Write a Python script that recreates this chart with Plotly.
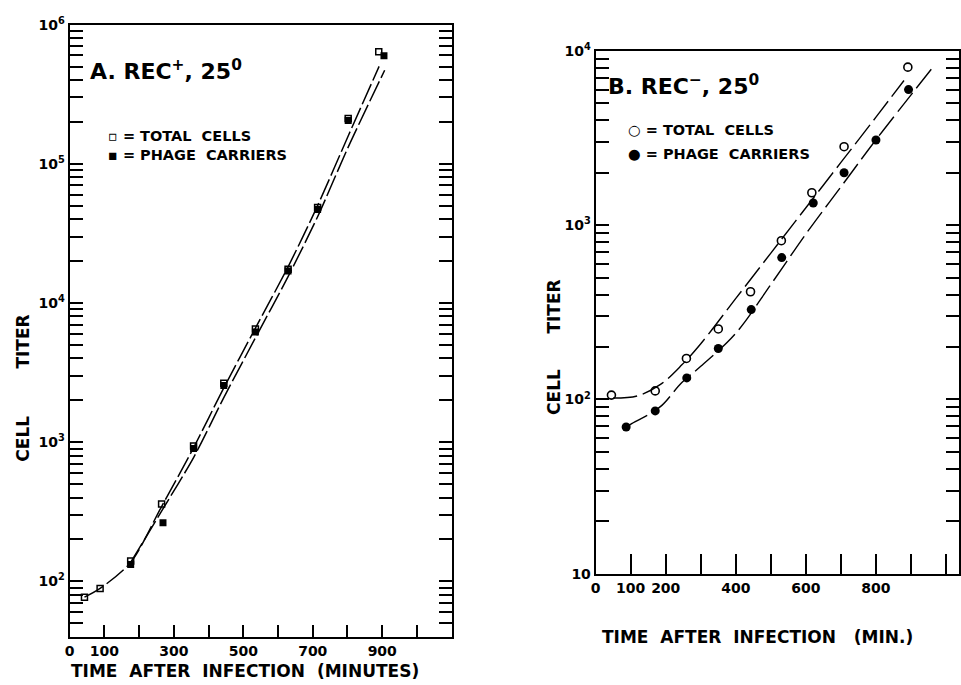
import plotly.graph_objects as go

W, H = 961, 685

# ---------------- Panel A: REC+, 25 deg ----------------
a_total_t = [43, 88, 176, 265, 357, 444, 535, 629, 714, 802, 890]
a_total_v = [77, 89, 140, 360, 940, 2650, 6500, 17500, 48500, 212000, 637000]
a_phage_t = [176, 269, 357, 444, 535, 629, 714, 802, 905]
a_phage_v = [132, 264, 900, 2550, 6200, 17000, 47000, 205000, 597000]
# hand-drawn fit curves
a_fit_total_t = [43, 88, 176, 265, 357, 444, 535, 629, 714, 802, 891]
a_fit_total_v = [77, 89, 137, 345, 912, 2455, 6607, 18200, 50100, 158500, 501000]
a_fit_phage_t = [176, 265, 357, 444, 535, 629, 714, 802, 907]
a_fit_phage_v = [137, 320, 776, 2089, 5623, 15490, 41690, 131800, 470000]

# ---------------- Panel B: REC-, 25 deg ----------------
b_total_t = [45, 170, 259, 350, 442, 530, 617, 709, 891]
b_total_v = [106, 112, 172, 254, 415, 815, 1535, 2820, 8070]
b_phage_t = [87, 170, 260, 350, 444, 531, 621, 709, 800, 893]
b_phage_v = [69.5, 86, 133, 196, 328, 652, 1340, 2000, 3080, 6000]
b_fit_total_t = [50, 120, 185, 246, 300, 400, 500, 600, 700, 800, 880]
b_fit_total_v = [102, 105, 122, 158, 209, 380, 692, 1259, 2291, 4169, 6761]
b_fit_phage_t = [87, 104, 156, 189, 246, 300, 400, 500, 600, 700, 800, 960]
b_fit_phage_v = [69.5, 73, 83, 92.5, 125, 155, 240, 457, 891, 1660, 3090, 7943]

# ---------------- axis ticks ----------------
a_xtick_vals = [0, 100, 300, 500, 700, 900]
a_xtick_text = ["0", "100", "300", "500", "700", "900"]
a_xminor_vals = [200, 400, 600, 800, 1000]
b_xtick_vals = [0, 100, 200, 400, 600, 800]
b_xtick_text = ["0", "100", "200", "400", "600", "800"]
b_xminor_vals = [300, 500, 700, 900, 1000]

a_ytick_vals = [100, 1000, 10000, 100000, 1000000]
a_ytick_text = ["10<sup>2</sup>", "10<sup>3</sup>", "10<sup>4</sup>", "10<sup>5</sup>", "10<sup>6</sup>"]
b_ytick_vals = [10, 100, 1000, 10000]
b_ytick_text = ["10", "10<sup>2</sup>", "10<sup>3</sup>", "10<sup>4</sup>"]
minor_mult = [2, 3, 4, 5, 6, 7, 8, 9]
a_yminor_vals = [m * 10 ** e for e in range(1, 6) for m in minor_mult if 40 <= m * 10 ** e <= 1e6]
b_yminor_vals = [m * 10 ** e for e in range(1, 4) for m in minor_mult]

FONT = "DejaVu Sans"
K = "black"

fig = go.Figure()

# Panel A
for t, v in [(a_fit_total_t, a_fit_total_v), (a_fit_phage_t, a_fit_phage_v)]:
    fig.add_trace(go.Scatter(x=t, y=v, mode="lines",
                             line=dict(color=K, width=1.5, dash="22px,4px", shape="spline", smoothing=0.8),
                             xaxis="x", yaxis="y", showlegend=False, hoverinfo="skip"))
fig.add_trace(go.Scatter(x=a_phage_t, y=a_phage_v, mode="markers",
                         marker=dict(symbol="square", size=7, color=K),
                         xaxis="x", yaxis="y", showlegend=False))
fig.add_trace(go.Scatter(x=a_total_t, y=a_total_v, mode="markers",
                         marker=dict(symbol="square-open", size=6, color=K, line=dict(width=1.5)),
                         xaxis="x", yaxis="y", showlegend=False))

# Panel B
for t, v in [(b_fit_total_t, b_fit_total_v), (b_fit_phage_t, b_fit_phage_v)]:
    fig.add_trace(go.Scatter(x=t, y=v, mode="lines",
                             line=dict(color=K, width=1.4, dash="24px,6px", shape="spline"),
                             xaxis="x2", yaxis="y2", showlegend=False, hoverinfo="skip"))
fig.add_trace(go.Scatter(x=b_total_t, y=b_total_v, mode="markers",
                         marker=dict(symbol="circle-open", size=8, color=K, line=dict(width=1.6)),
                         xaxis="x2", yaxis="y2", showlegend=False))
fig.add_trace(go.Scatter(x=b_phage_t, y=b_phage_v, mode="markers",
                         marker=dict(symbol="circle", size=9, color=K),
                         xaxis="x2", yaxis="y2", showlegend=False))

def px(x): return x / W
def py(y): return 1 - y / H

def axis(minor_vals, **kw):
    d = dict(showgrid=False, zeroline=False, showline=True, linecolor=K,
             linewidth=2, ticks="inside", tickcolor=K, tickwidth=2,
             tickfont=dict(family=FONT, size=14, color=K, weight="bold"),
             tickmode="array")
    d.update(kw)
    d["minor"] = dict(ticks="inside", tickmode="array", tickvals=minor_vals,
                      ticklen=d["ticklen"], tickwidth=2, tickcolor=K, showgrid=False)
    return d

fig.update_layout(
    width=W, height=H, margin=dict(l=0, r=0, t=0, b=0),
    paper_bgcolor="white", plot_bgcolor="white", showlegend=False,
    xaxis=axis(a_xminor_vals, domain=[px(65), px(450)], range=[0, 1100], anchor="y",
               tickvals=a_xtick_vals, ticktext=a_xtick_text, ticklen=12, mirror=True),
    yaxis=axis(a_yminor_vals, domain=[py(644), py(15)], type="log", range=[1.6, 6.0], anchor="x",
               tickvals=a_ytick_vals, ticktext=a_ytick_text, ticklen=13, mirror="allticks"),
    xaxis2=axis(b_xminor_vals, domain=[px(595), 1.0], range=[0, 1037], anchor="y2",
                tickvals=b_xtick_vals, ticktext=b_xtick_text, ticklen=20, mirror=True),
    yaxis2=axis(b_yminor_vals, domain=[py(579), py(42)], type="log", range=[1.0, 4.0], anchor="x2",
                tickvals=b_ytick_vals, ticktext=b_ytick_text, ticklen=13, mirror="allticks"),
)

NB = "\u00a0"
def ann(text, x, y, size, xanchor="left", angle=0):
    fig.add_annotation(text=text, x=px(x), y=py(y), xref="paper", yref="paper",
                       xanchor=xanchor, yanchor="middle", showarrow=False,
                       textangle=angle, font=dict(family=FONT, size=size, color=K, weight="bold"))

ann("A." + NB + "REC<sup>+</sup>, 25<sup>0</sup>", 84, 62, 22)
ann("\u25ab" + NB + "= TOTAL" + NB * 2 + "CELLS", 102, 129, 14.5)
ann("\u25aa" + NB + "= PHAGE" + NB * 2 + "CARRIERS", 102, 149, 14.5)
ann("B." + NB + "REC<sup>\u2212</sup>, 25<sup>0</sup>", 605, 77, 22)
ann("\u25cb" + NB + "= TOTAL" + NB * 2 + "CELLS", 626, 123, 14.5)
ann("\u25cf" + NB + "= PHAGE" + NB * 2 + "CARRIERS", 626, 148, 14.5)
ann("CELL" + NB * 8 + "TITER", 18, 388, 17, xanchor="center", angle=-90)
ann("CELL" + NB * 6 + "TITER", 553, 346, 17, xanchor="center", angle=-90)
ann("TIME" + NB * 2 + "AFTER" + NB * 2 + "INFECTION" + NB * 2 + "(MINUTES)", 242, 679, 17,
    xanchor="center")
ann("TIME" + NB * 2 + "AFTER" + NB * 2 + "INFECTION" + NB * 3 + "(MIN.)", 758, 644, 17,
    xanchor="center")

fig.write_html("out.html")
